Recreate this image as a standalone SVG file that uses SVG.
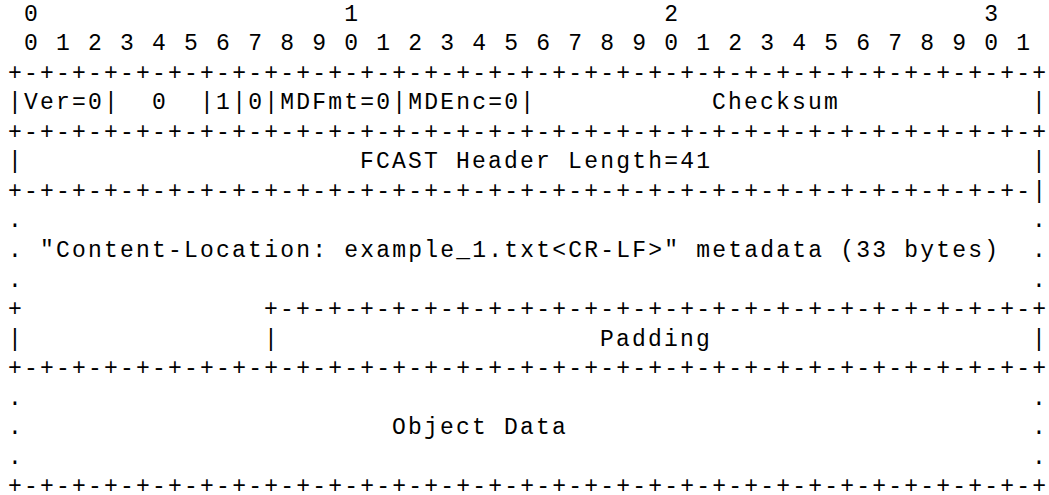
<svg xmlns="http://www.w3.org/2000/svg" width="1049" height="495" viewBox="0 0 1049 495">
<style>
text{font-family:"Liberation Mono","Courier New",monospace;font-size:23px;letter-spacing:2.2px;fill:#000;white-space:pre}
</style>
<rect width="1049" height="495" fill="#fff"/>
<g id="ruler">
<text x="8.1" y="20.5" xml:space="preserve"> 0                   1                   2                   3</text>
<text x="8.1" y="50" xml:space="preserve"> 0 1 2 3 4 5 6 7 8 9 0 1 2 3 4 5 6 7 8 9 0 1 2 3 4 5 6 7 8 9 0 1</text>
</g>
<g id="connectors">
<text x="8.1" y="79.6">+-+-+-+-+-+-+-+-+-+-+-+-+-+-+-+-+-+-+-+-+-+-+-+-+-+-+-+-+-+-+-+-+</text>
<text x="8.1" y="138.7">+-+-+-+-+-+-+-+-+-+-+-+-+-+-+-+-+-+-+-+-+-+-+-+-+-+-+-+-+-+-+-+-+</text>
<text x="8.1" y="197.8">+-+-+-+-+-+-+-+-+-+-+-+-+-+-+-+-+-+-+-+-+-+-+-+-+-+-+-+-+-+-+-+-|</text>
<text x="8.1" y="316">+</text>
<text x="264.1" y="316">+-+-+-+-+-+-+-+-+-+-+-+-+-+-+-+-+-+-+-+-+-+-+-+-+</text>
<text x="8.1" y="375.1">+-+-+-+-+-+-+-+-+-+-+-+-+-+-+-+-+-+-+-+-+-+-+-+-+-+-+-+-+-+-+-+-+</text>
<text x="8.1" y="493">+-+-+-+-+-+-+-+-+-+-+-+-+-+-+-+-+-+-+-+-+-+-+-+-+-+-+-+-+-+-+-+-+</text>
</g>
<g id="row-flags">
<text x="8.1" y="109.2" xml:space="preserve">|Ver=0|  0  |1|0|MDFmt=0|MDEnc=0|</text>
<text x="712.1" y="109.2">Checksum</text>
<text x="1032.1" y="109.2">|</text>
</g>
<g id="row-length">
<text x="8.1" y="168.3">|</text>
<text x="360.1" y="168.3">FCAST Header Length=41</text>
<text x="1032.1" y="168.3">|</text>
</g>
<g id="metadata">
<text x="8.1" y="227.4">.</text>
<text x="1032.1" y="227.4">.</text>
<text x="8.1" y="256.9">.</text>
<text x="40.1" y="256.9">"Content-Location: example_1.txt&lt;CR-LF&gt;" metadata (33 bytes)</text>
<text x="1032.1" y="256.9">.</text>
<text x="8.1" y="286.5">.</text>
<text x="1032.1" y="286.5">.</text>
</g>
<g id="padding">
<text x="8.1" y="345.6">|</text>
<text x="264.1" y="345.6">|</text>
<text x="600.1" y="345.6">Padding</text>
<text x="1032.1" y="345.6">|</text>
</g>
<g id="object-data">
<text x="8.1" y="404.7">.</text>
<text x="1032.1" y="404.7">.</text>
<text x="8.1" y="434.2">.</text>
<text x="392.1" y="434.2">Object Data</text>
<text x="1032.1" y="434.2">.</text>
<text x="8.1" y="463.8">.</text>
<text x="1032.1" y="463.8">.</text>
</g>
</svg>
